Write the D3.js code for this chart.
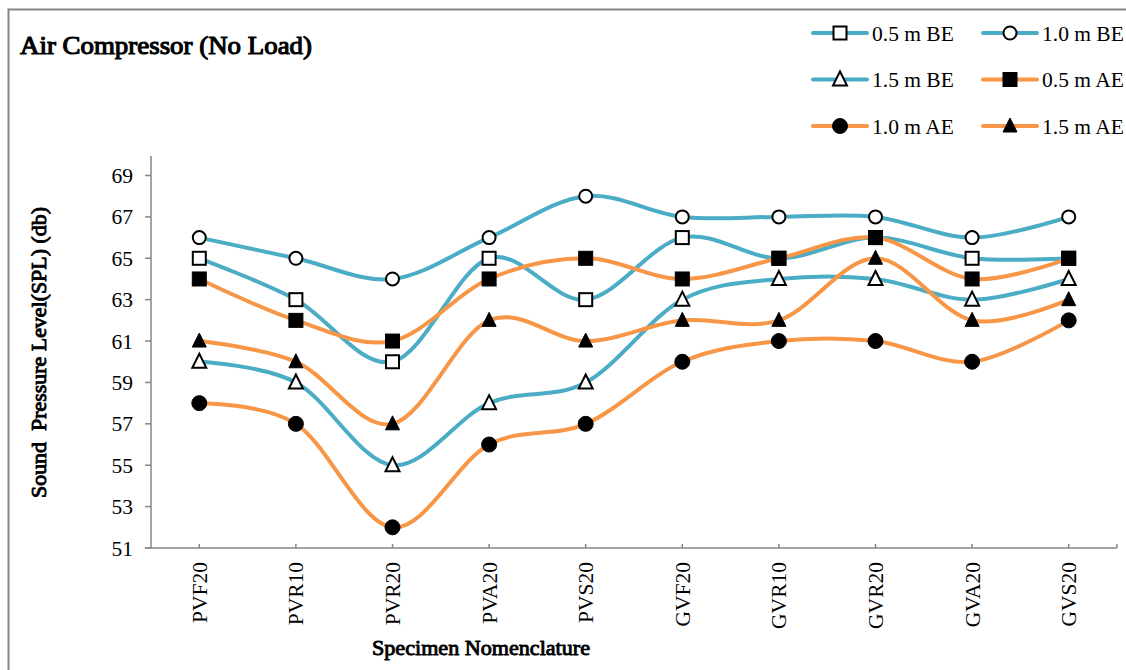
<!DOCTYPE html>
<html>
<head>
<meta charset="utf-8">
<script src="https://cdn.jsdelivr.net/npm/d3@7"></script>
<style>
  html, body { margin: 0; padding: 0; background: #fff; }
  svg { display: block; font-family: "Liberation Serif", "Times New Roman", serif; }
</style>
</head>
<body>
<svg id="chart" width="1126" height="670"></svg>
<script>
// Specimens along the x axis
const categories = ["PVF20", "PVR10", "PVR20", "PVA20", "PVS20", "GVF20", "GVR10", "GVR20", "GVA20", "GVS20"];

// Sound pressure level (dB) per specimen, before (BE) and after (AE) treatment
const spl05BE = [65, 63, 60, 65, 63, 66, 65, 66, 65, 65];
const spl10BE = [66, 65, 64, 66, 68, 67, 67, 67, 66, 67];
const spl15BE = [60, 59, 55, 58, 59, 63, 64, 64, 63, 64];
const spl05AE = [64, 62, 61, 64, 65, 64, 65, 66, 64, 65];
const spl10AE = [58, 57, 52, 56, 57, 60, 61, 61, 60, 62];
const spl15AE = [61, 60, 57, 62, 61, 62, 62, 65, 62, 63];

const seriesNames = ["0.5 m BE", "1.0 m BE", "1.5 m BE", "0.5 m AE", "1.0 m AE", "1.5 m AE"];
const yTicks = [51, 53, 55, 57, 59, 61, 63, 65, 67, 69];

const BLUE = "#4bacc6", ORANGE = "#f79646";
const series = [
  { name: seriesNames[0], values: spl05BE, color: BLUE,   shape: "square",   filled: false },
  { name: seriesNames[1], values: spl10BE, color: BLUE,   shape: "circle",   filled: false },
  { name: seriesNames[2], values: spl15BE, color: BLUE,   shape: "triangle", filled: false },
  { name: seriesNames[3], values: spl05AE, color: ORANGE, shape: "square",   filled: true },
  { name: seriesNames[4], values: spl10AE, color: ORANGE, shape: "circle",   filled: true },
  { name: seriesNames[5], values: spl15AE, color: ORANGE, shape: "triangle", filled: true }
];

const svg = d3.select("#chart");
const AXIS = "#868686";
const FS = 21.5;

// outer frame
svg.append("path")
  .attr("d", "M8.5,670 L8.5,9.5 L1126,9.5")
  .attr("fill", "none").attr("stroke", AXIS).attr("stroke-width", 2);

const plot = { left: 151, right: 1117, top: 156, bottom: 548 };

const x = d3.scaleBand().domain(categories).range([plot.left, plot.right]);
const y = d3.scaleLinear().domain([51, 69]).range([548, 175.5]);
const cx = c => x(c) + x.bandwidth() / 2;

// heavy serif text (regular face thickened with a matching outline)
function boldText(sel, weight) {
  return sel.attr("fill", "#000").attr("stroke", "#000")
    .attr("stroke-width", weight).attr("stroke-linejoin", "round")
    .attr("lengthAdjust", "spacingAndGlyphs");
}

// y axis
const yAxis = svg.append("g");
yAxis.append("line")
  .attr("x1", plot.left).attr("x2", plot.left)
  .attr("y1", plot.top).attr("y2", plot.bottom)
  .attr("stroke", AXIS).attr("stroke-width", 1.5);
yAxis.selectAll(".yt").data(yTicks).join("line")
  .attr("x1", plot.left - 6).attr("x2", plot.left)
  .attr("y1", d => y(d)).attr("y2", d => y(d))
  .attr("stroke", AXIS).attr("stroke-width", 1.5);
yAxis.selectAll(".yl").data(yTicks).join("text")
  .attr("x", plot.left - 18).attr("y", d => y(d))
  .attr("dy", "0.35em").attr("text-anchor", "end")
  .attr("font-size", FS).attr("fill", "#000")
  .text(d => d);

// x axis
const xAxis = svg.append("g");
xAxis.append("line")
  .attr("x1", plot.left - 6).attr("x2", plot.right)
  .attr("y1", plot.bottom).attr("y2", plot.bottom)
  .attr("stroke", AXIS).attr("stroke-width", 1.5);
xAxis.selectAll(".xt").data(categories.map(cx).concat([plot.right])).join("line")
  .attr("x1", d => d).attr("x2", d => d)
  .attr("y1", plot.bottom - 4).attr("y2", plot.bottom)
  .attr("stroke", AXIS).attr("stroke-width", 1.5);
xAxis.selectAll(".xl").data(categories).join("text")
  .attr("transform", d => `translate(${cx(d)},${plot.bottom + 14}) rotate(-90)`)
  .attr("dy", "0.35em").attr("text-anchor", "end")
  .attr("font-size", FS).attr("fill", "#000")
  .text(d => d);

// titles
svg.append("text")
  .attr("x", 20).attr("y", 54)
  .attr("font-size", 25)
  .call(boldText, 1.1)
  .attr("textLength", 292)
  .text("Air Compressor (No Load)");
svg.append("text")
  .attr("x", 372).attr("y", 655)
  .attr("font-size", 21)
  .call(boldText, 0.9)
  .attr("textLength", 218)
  .text("Specimen Nomenclature");
svg.append("text")
  .attr("transform", "translate(46,498) rotate(-90)")
  .attr("font-size", 20.5)
  .call(boldText, 0.9)
  .attr("textLength", 291)
  .attr("xml:space", "preserve")
  .style("white-space", "pre")
  .text("Sound  Pressure Level(SPL) (db)");

// smoothed series lines
const line = d3.line()
  .x((d, i) => cx(categories[i]))
  .y(d => y(d))
  .curve(d3.curveCatmullRom.alpha(0));

svg.append("g").selectAll("path").data(series).join("path")
  .attr("d", s => line(s.values))
  .attr("fill", "none")
  .attr("stroke", s => s.color)
  .attr("stroke-width", 4)
  .attr("stroke-linecap", "round");

// marker drawing
function drawMarker(g, s, px, py) {
  const fill = s.filled ? "#000" : "#fff";
  const sw = s.filled ? 1 : 2;
  if (s.shape === "square") {
    const h = s.filled ? 7 : 6.5;
    g.append("rect").attr("x", px - h).attr("y", py - h)
      .attr("width", 2 * h).attr("height", 2 * h)
      .attr("fill", fill).attr("stroke", "#000").attr("stroke-width", sw);
  } else if (s.shape === "circle") {
    g.append("circle").attr("cx", px).attr("cy", py)
      .attr("r", s.filled ? 7.5 : 6.5)
      .attr("fill", fill).attr("stroke", "#000").attr("stroke-width", sw);
  } else {
    const h = 7;
    g.append("path")
      .attr("d", `M${px},${py - h - 1} L${px + h},${py + h - 1} L${px - h},${py + h - 1} Z`)
      .attr("fill", fill).attr("stroke", "#000").attr("stroke-width", sw)
      .attr("stroke-linejoin", "miter");
  }
}

const markers = svg.append("g");
series.forEach(s => {
  s.values.forEach((v, i) => drawMarker(markers, s, cx(categories[i]), y(v)));
});

// legend: two columns, three rows
const legend = svg.append("g");
series.forEach((s, i) => {
  const col = i % 2, row = Math.floor(i / 2);
  const lx = 813 + col * 170, ly = 33 + row * 46.5;
  const g = legend.append("g");
  g.append("line")
    .attr("x1", lx).attr("x2", lx + 54)
    .attr("y1", ly).attr("y2", ly)
    .attr("stroke", s.color).attr("stroke-width", 4).attr("stroke-linecap", "round");
  drawMarker(g, s, lx + 27, ly);
  g.append("text")
    .attr("x", lx + 59).attr("y", ly).attr("dy", "0.35em")
    .attr("font-size", FS).attr("fill", "#000")
    .text(s.name);
});
</script>
</body>
</html>
